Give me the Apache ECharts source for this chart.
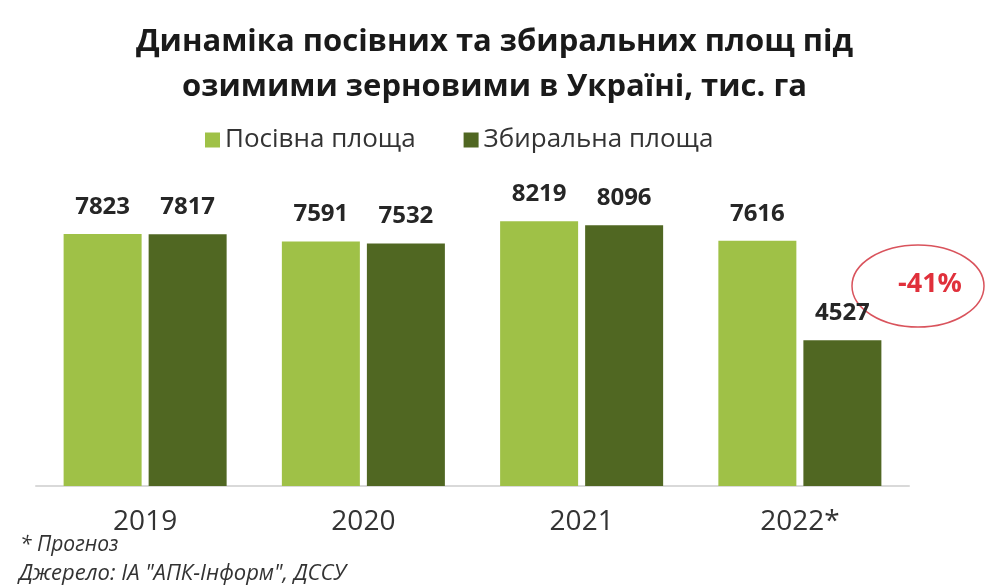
<!DOCTYPE html>
<html><head><meta charset="utf-8">
<script src="https://cdn.jsdelivr.net/npm/echarts@6/dist/echarts.min.js"></script>
<style>html,body{margin:0;padding:0;background:#fff}#c{width:989px;height:585px}</style>
</head><body><div id="c"></div>
<script>
const categories = ['2019', '2020', '2021', '2022*'];
const sownArea = [7823, 7591, 8219, 7616];
const harvestedArea = [7817, 7532, 8096, 4527];
const seriesNames = ['Посівна площа', 'Збиральна площа'];

const chart = echarts.init(document.getElementById('c'));
const FONT = '"Open Sans", "DejaVu Sans", sans-serif';
const labelCfg = {show: true, position: 'top', distance: 15, color: '#262626', fontWeight: 'bold', fontSize: 24, fontFamily: FONT};
chart.setOption({
  backgroundColor: '#fff',
  animation: false,
  title: {
    text: 'Динаміка посівних та збиральних площ під\nозимими зерновими в Україні, тис. га',
    left: 'center', top: 15,
    textStyle: {fontFamily: FONT, fontWeight: 'bold', fontSize: 31, lineHeight: 45, color: '#1a1a1a'}
  },
  legend: {
    data: seriesNames, top: 122, left: 200, itemWidth: 15, itemHeight: 15, itemGap: 48,
    icon: 'rect',
    textStyle: {fontFamily: FONT, fontSize: 26, color: '#333'}
  },
  grid: {left: 36, right: 80, top: 164, bottom: 99},
  xAxis: {
    type: 'category', data: categories,
    axisLine: {lineStyle: {color: '#d9d9d9', width: 2}},
    axisTick: {show: false},
    axisLabel: {fontFamily: FONT, fontSize: 28, color: '#333', margin: 22}
  },
  yAxis: {type: 'value', min: 0, max: 10000, show: false, splitLine: {show: false}},
  series: [
    {name: seriesNames[0], type: 'bar', data: sownArea, barWidth: 78, barGap: '9%', itemStyle: {color: '#9fc147'}, label: labelCfg},
    {name: seriesNames[1], type: 'bar', data: harvestedArea, barWidth: 78, itemStyle: {color: '#506722'}, label: labelCfg}
  ],
  graphic: [
    {type: 'ellipse', shape: {cx: 918, cy: 286, rx: 66, ry: 41}, style: {fill: 'none', stroke: '#d9535c', lineWidth: 1.5}},
    {type: 'text', left: 898, top: 271, style: {text: '-41%', fill: '#e0303b', font: 'bold 27px ' + FONT}},
    {type: 'text', left: 20, top: 535, style: {text: '* Прогноз', fill: '#333', font: 'italic 21px ' + FONT}},
    {type: 'text', left: 19, top: 563, style: {text: 'Джерело: ІА "АПК-Інформ", ДССУ', fill: '#333', font: 'italic 22px ' + FONT}}
  ]
});
</script></body></html>
